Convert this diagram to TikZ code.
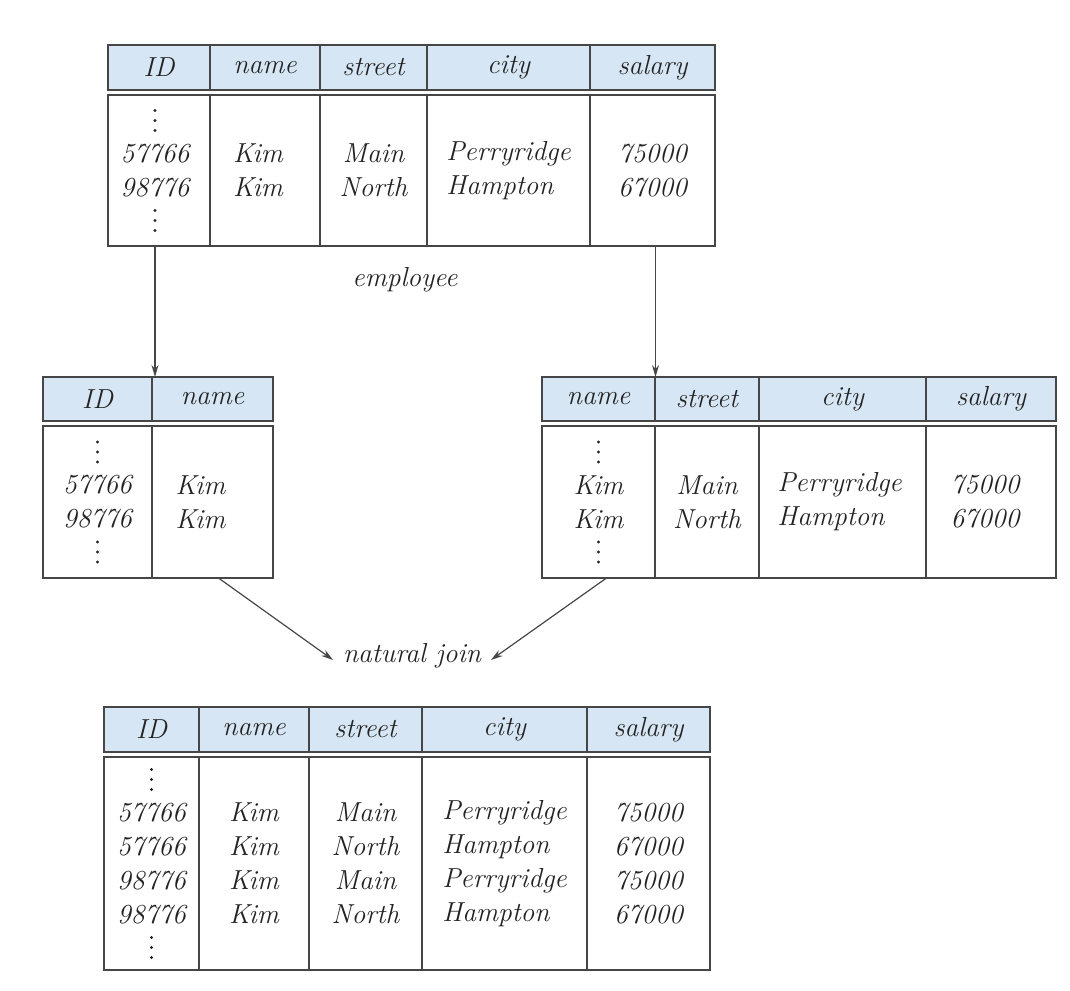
\documentclass[tikz,border=0pt]{standalone}
\usetikzlibrary{calc,arrows.meta}
\definecolor{hdrc}{RGB}{214,230,244}
\definecolor{linec}{RGB}{70,70,70}
\definecolor{textc}{RGB}{35,35,35}
\newcommand\tabfont{\fontsize{27.5}{34}\selectfont\itshape}
\begin{document}
\begin{tikzpicture}[x=1pt,y=-1pt,
  every node/.style={inner sep=0pt, outer sep=0pt},
  hdr/.style={draw=linec, fill=hdrc, line width=1.8pt, anchor=north west, minimum height=45pt, font=\tabfont, text=textc},
  cellbox/.style={draw=linec, line width=1.5pt, anchor=north west},
  txt/.style={font=\tabfont, text=textc, align=center},
  ltxt/.style={font=\tabfont, text=textc, align=left},
  lbl/.style={font=\tabfont, text=textc},
  arr/.style={draw=linec, line width=1.2pt, -{Stealth[length=12pt,width=7pt]}}]
\useasboundingbox (0,0) rectangle (1070,990);

% ---------- top table: employee ----------
\node[hdr, minimum width=102pt] (eH1) at (108,45) {ID};
\node[hdr, minimum width=110pt] (eH2) at (210,45) {name};
\node[hdr, minimum width=107pt] (eH3) at (320,45) {street};
\node[hdr, minimum width=163pt] (eH4) at (427,45) {city};
\node[hdr, minimum width=125pt] (eH5) at (590,45) {salary};
\node[cellbox, minimum width=102pt, minimum height=151pt] (eB1) at (108,95) {};
\node[cellbox, minimum width=110pt, minimum height=151pt] (eB2) at (210,95) {};
\node[cellbox, minimum width=107pt, minimum height=151pt] (eB3) at (320,95) {};
\node[cellbox, minimum width=163pt, minimum height=151pt] (eB4) at (427,95) {};
\node[cellbox, minimum width=125pt, minimum height=151pt] (eB5) at (590,95) {};
\node[txt] (eT1) at ([xshift=-4pt]eB1.center) {57766\\98776};
\node[txt] (eT2) at ([xshift=-7pt]eB2.center) {Kim\\Kim};
\node[txt] (eT3) at (eB3.center) {Main\\North};
\node[ltxt] (eT4) at (eB4.center) {Perryridge\\Hampton};
\node[txt] (eT5) at (eB5.center) {75000\\67000};
\foreach \d in {-60,-50,-40,40,50,60}
  \fill[textc] ($(eT1.center)+(0,\d)$) circle (1.7);
\node[lbl] (emp) at (405,280) {employee};

% ---------- left middle table ----------
\node[hdr, minimum width=109pt, minimum height=44pt] (lH1) at (43,377) {ID};
\node[hdr, minimum width=121pt, minimum height=44pt] (lH2) at (152,377) {name};
\node[cellbox, minimum width=109pt, minimum height=152pt] (lB1) at (43,426) {};
\node[cellbox, minimum width=121pt, minimum height=152pt] (lB2) at (152,426) {};
\node[txt] (lT1) at (lB1.center) {57766\\98776};
\node[txt] (lT2) at ([xshift=-12pt]lB2.center) {Kim\\Kim};
\foreach \d in {-60,-50,-40,40,50,60}
  \fill[textc] ($(lT1.center)+(0,\d)$) circle (1.7);

% ---------- right middle table ----------
\node[hdr, minimum width=113pt, minimum height=44pt] (rH1) at (542,377) {name};
\node[hdr, minimum width=104pt, minimum height=44pt] (rH2) at (655,377) {street};
\node[hdr, minimum width=167pt, minimum height=44pt] (rH3) at (759,377) {city};
\node[hdr, minimum width=130pt, minimum height=44pt] (rH4) at (926,377) {salary};
\node[cellbox, minimum width=113pt, minimum height=152pt] (rB1) at (542,426) {};
\node[cellbox, minimum width=104pt, minimum height=152pt] (rB2) at (655,426) {};
\node[cellbox, minimum width=167pt, minimum height=152pt] (rB3) at (759,426) {};
\node[cellbox, minimum width=130pt, minimum height=152pt] (rB4) at (926,426) {};
\node[txt] (rT1) at (rB1.center) {Kim\\Kim};
\node[txt] (rT2) at (rB2.center) {Main\\North};
\node[ltxt] (rT3) at ([xshift=-3pt]rB3.center) {Perryridge\\Hampton};
\node[txt] (rT4) at ([xshift=-6pt]rB4.center) {75000\\67000};
\foreach \d in {-60,-50,-40,40,50,60}
  \fill[textc] ($(rT1.center)+(0,\d)$) circle (1.7);

% ---------- join label ----------
\node[lbl] (join) at (412,656) {natural join};

% ---------- bottom table ----------
\node[hdr, minimum width=95pt] (bH1) at (104,707) {ID};
\node[hdr, minimum width=110pt] (bH2) at (199,707) {name};
\node[hdr, minimum width=113pt] (bH3) at (309,707) {street};
\node[hdr, minimum width=165pt] (bH4) at (422,707) {city};
\node[hdr, minimum width=123pt] (bH5) at (587,707) {salary};
\node[cellbox, minimum width=95pt, minimum height=213pt] (bB1) at (104,757) {};
\node[cellbox, minimum width=110pt, minimum height=213pt] (bB2) at (199,757) {};
\node[cellbox, minimum width=113pt, minimum height=213pt] (bB3) at (309,757) {};
\node[cellbox, minimum width=165pt, minimum height=213pt] (bB4) at (422,757) {};
\node[cellbox, minimum width=123pt, minimum height=213pt] (bB5) at (587,757) {};
\node[txt] (bT1) at (bB1.center) {57766\\57766\\98776\\98776};
\node[txt] (bT2) at (bB2.center) {Kim\\Kim\\Kim\\Kim};
\node[txt] (bT3) at (bB3.center) {Main\\North\\Main\\North};
\node[ltxt] (bT4) at (bB4.center) {Perryridge\\Hampton\\Perryridge\\Hampton};
\node[txt] (bT5) at (bB5.center) {75000\\67000\\75000\\67000};
\foreach \d in {-94,-84,-74,74,84,94}
  \fill[textc] ($(bT1.center)+(0,\d)$) circle (1.7);

% ---------- arrows ----------
\draw[arr] ([xshift=-4pt]eB1.south) -- ([xshift=-4pt]eB1.south |- lH1.north);
\draw[arr] ([xshift=3pt]eB5.south) -- ([xshift=3pt]eB5.south |- rH1.north);
\draw[arr] ([xshift=6pt]lB2.south) -- ([xshift=-10pt,yshift=-4pt]join.west);
\draw[arr] ([xshift=8pt]rB1.south) -- ([xshift=10pt,yshift=-4pt]join.east);
\end{tikzpicture}
\end{document}
